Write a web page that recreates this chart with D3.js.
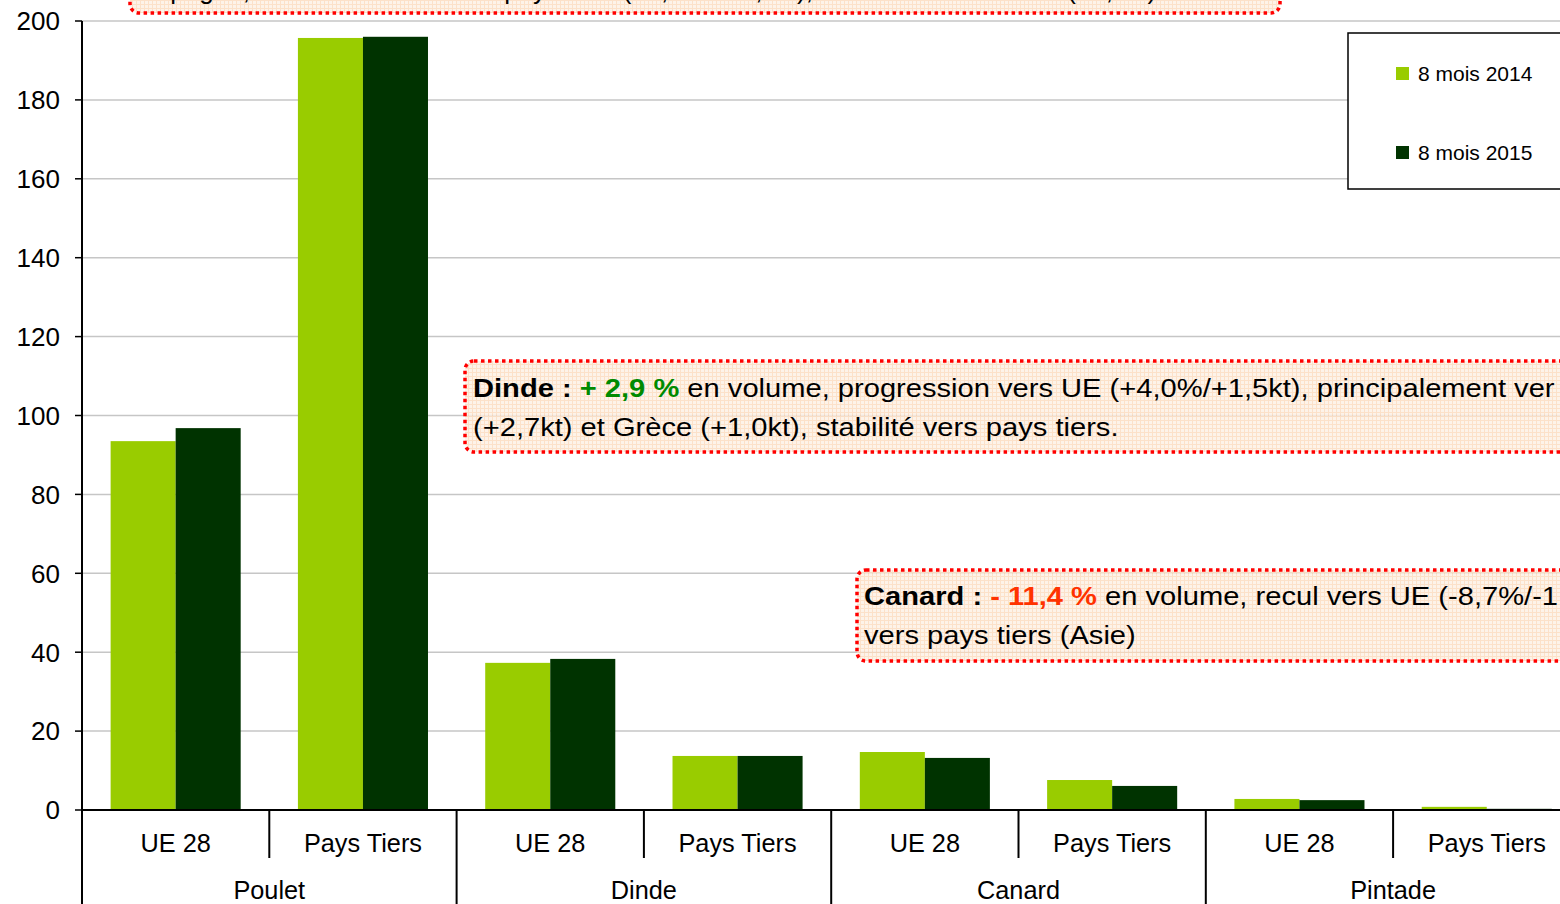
<!DOCTYPE html>
<html><head><meta charset="utf-8">
<script src="https://cdn.jsdelivr.net/npm/d3@7/dist/d3.min.js"></script>
<style>
html,body{margin:0;padding:0;background:#fff;overflow:hidden;}
svg{display:block;font-family:"Liberation Sans",Arial,sans-serif;}
</style></head>
<body>
<script>
const groups = ["Poulet","Dinde","Canard","Pintade"];
const subcats = ["UE 28","Pays Tiers"];
const series = ["8 mois 2014","8 mois 2015"];
const values2014 = [93.5,195.7,37.3,13.7,14.7,7.6,2.8,0.8];
const values2015 = [96.8,196.0,38.3,13.7,13.2,6.1,2.5,0.3];
const yTicks = [0,20,40,60,80,100,120,140,160,180,200];
const colors = ["#99cc00","#003300"];

const W=1560,H=904;
const svg=d3.select("body").append("svg").attr("width",W).attr("height",H);

const left=82, step=187.3, y0=810, yTop=21;
const cats=[];
groups.forEach(g=>subcats.forEach(s=>cats.push(g+"|"+s)));
const x=d3.scaleBand().domain(cats).range([left,left+step*cats.length]).padding(0);
const x1=d3.scaleBand().domain(series).range([0,x.bandwidth()]).paddingInner(0).paddingOuter(0.44);
const y=d3.scaleLinear().domain([0,200]).range([y0,yTop]);

// gridlines
svg.append("g").selectAll("line").data(yTicks.filter(d=>d>0)).join("line")
  .attr("x1",left).attr("x2",W).attr("y1",d=>y(d)).attr("y2",d=>y(d))
  .attr("stroke","#c6c6c6").attr("stroke-width",1.5);

// bars
const data=cats.map((c,i)=>({c,vals:[values2014[i],values2015[i]]}));
const gb=svg.append("g");
data.forEach(d=>{
  series.forEach((s,j)=>{
    gb.append("rect").attr("x",x(d.c)+x1(s)).attr("width",x1.bandwidth())
      .attr("y",y(d.vals[j])).attr("height",y(0)-y(d.vals[j]))
      .attr("fill",colors[j]);
  });
});

// y axis
const ya=svg.append("g");
ya.append("line").attr("x1",left).attr("x2",left).attr("y1",yTop).attr("y2",H).attr("stroke","#000").attr("stroke-width",2);
ya.selectAll(".t").data(yTicks).join("line").attr("x1",left-7).attr("x2",left).attr("y1",d=>y(d)).attr("y2",d=>y(d)).attr("stroke","#000").attr("stroke-width",1.5);
ya.selectAll("text").data(yTicks).join("text").attr("x",60).attr("y",d=>y(d)).attr("dy","0.36em")
  .attr("text-anchor","end").attr("font-size",26).attr("fill","#000").text(d=>d);

// x axis
const xa=svg.append("g");
xa.append("line").attr("x1",left).attr("x2",W).attr("y1",y0).attr("y2",y0).attr("stroke","#000").attr("stroke-width",2);
cats.forEach((c,i)=>{
  if(i>0){
    const isGroup = i%subcats.length===0;
    xa.append("line").attr("x1",x(c)).attr("x2",x(c)).attr("y1",y0).attr("y2",isGroup?H:858)
      .attr("stroke","#000").attr("stroke-width",2);
  }
  xa.append("text").attr("x",x(c)+x.bandwidth()/2).attr("y",852).attr("text-anchor","middle")
    .attr("font-size",25.3).attr("fill","#000").text(c.split("|")[1]);
});
groups.forEach((g,i)=>{
  const cx = x(g+"|"+subcats[0]) + x.bandwidth()*subcats.length/2;
  xa.append("text").attr("x",cx).attr("y",899).attr("text-anchor","middle")
    .attr("font-size",25.3).attr("fill","#000").text(g);
});

// legend
const lg=svg.append("g");
lg.append("rect").attr("x",1348).attr("y",33).attr("width",240).attr("height",156)
  .attr("fill","#fff").attr("stroke","#000").attr("stroke-width",1.5);
series.forEach((s,j)=>{
  const ly = 73 + j*79;
  lg.append("rect").attr("x",1396).attr("y",ly-6).attr("width",13).attr("height",13).attr("fill",colors[j]);
  lg.append("text").attr("x",1418).attr("y",ly).attr("dy","0.36em").attr("font-size",21).attr("fill","#000").text(s);
});

// annotation pattern
const defs=svg.append("defs");
const pat=defs.append("pattern").attr("id","grid").attr("width",4).attr("height",4).attr("patternUnits","userSpaceOnUse");
pat.append("rect").attr("width",4).attr("height",4).attr("fill","#fdf0e4");
pat.append("path").attr("d","M0,0.5H4M0.5,0V4").attr("stroke","#fbd9bb").attr("stroke-width",1);

function box(x0,y0b,w,h){
  svg.append("rect").attr("x",x0).attr("y",y0b).attr("width",w).attr("height",h).attr("rx",9)
    .attr("fill","url(#grid)").attr("fill-opacity",0.8)
    .attr("stroke","#ff0000").attr("stroke-width",3.5).attr("stroke-dasharray","3.5,3.5");
}
function lines(x0,ys,parts,sx){
  parts.forEach((ln,i)=>{
    const t=svg.append("text").attr("x",0).attr("y",0)
      .attr("transform",`translate(${x0},${ys[i]}) scale(${sx},1)`)
      .attr("font-size",26).attr("fill","#000");
    ln.forEach(p=>t.append("tspan").attr("font-weight",p.b?"bold":"normal").attr("fill",p.c||"#000").text(p.t));
  });
}

// top box (Poulet, mostly out of view)
box(130,-80,1150,93);
lines(140,[-1],[[{t:"Espagne, forte hausse vers les pays tiers (+6,1%/+11,2kt), vers Arabie Saoudite (+4,3kt)"}]],1);

// Dinde box
box(465,361,1200,91);
lines(473,[397,436],[
  [{t:"Dinde : ",b:true},{t:"+ 2,9 %",b:true,c:"#008a00"},{t:" en volume, progression vers UE (+4,0%/+1,5kt), principalement ver"}],
  [{t:"(+2,7kt) et Grèce (+1,0kt), stabilité vers pays tiers."}]
],1.12);

// Canard box
box(857,570,800,91);
lines(864,[605,644],[
  [{t:"Canard : ",b:true},{t:"- 11,4 %",b:true,c:"#ff3300"},{t:" en volume, recul vers UE (-8,7%/-1"}],
  [{t:"vers pays tiers (Asie)"}]
],1.12);
</script>
</body></html>
